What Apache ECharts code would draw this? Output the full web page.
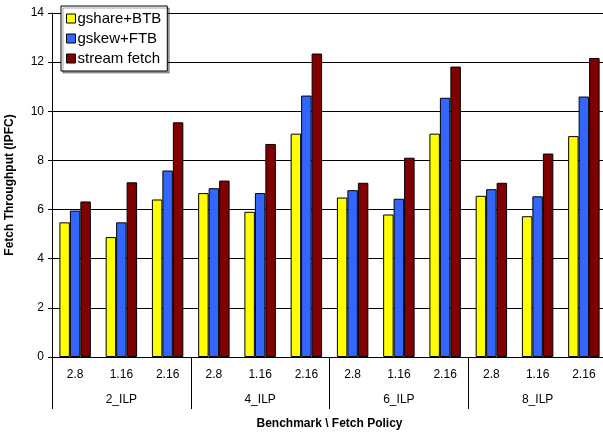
<!DOCTYPE html>
<html>
<head>
<meta charset="utf-8">
<script src="https://cdn.jsdelivr.net/npm/echarts@6/dist/echarts.min.js"></script>
<style>
    html, body { margin: 0; padding: 0; background: #fff; }
    #chart { width: 603px; height: 434px; }
</style>
</head>
<body>
<div id="chart"></div>
<script>

    // fetch throughput per benchmark / fetch policy

    var policies = ['2.8', '1.16', '2.16', '2.8', '1.16', '2.16', '2.8', '1.16', '2.16', '2.8', '1.16', '2.16'];
    var benchmarks = ['2_ILP', '4_ILP', '6_ILP', '8_ILP'];

    var gshareBTB = [5.48, 4.88, 6.41, 6.67, 5.91, 9.09, 6.49, 5.80, 9.09, 6.56, 5.73, 8.99];
    var gskewFTB = [5.96, 5.48, 7.59, 6.87, 6.67, 10.64, 6.79, 6.44, 10.55, 6.83, 6.54, 10.60];
    var streamFetch = [6.33, 7.11, 9.55, 7.18, 8.67, 12.35, 7.09, 8.11, 11.82, 7.09, 8.28, 12.17];

    var fontName = 'Liberation Sans, Arial, sans-serif';

    var chart = echarts.init(document.getElementById('chart'));

    function barSeries(name, color, data) {
        return {
            name: name,
            type: 'bar',
            xAxisIndex: 0,
            barGap: '0%',
            barCategoryGap: '32%',
            itemStyle: {
                color: color,
                borderColor: '#000',
                borderWidth: 1
            },
            data: data
        };
    }

    var option = {
        animation: false,
        textStyle: { fontFamily: fontName },
        grid: {
            left: 52,
            top: 13,
            width: 555,
            height: 344,
            outerBoundsMode: 'none',
            containLabel: false
        },
        legend: {
            orient: 'vertical',
            left: 61,
            top: 6,
            padding: [5, 6, 5, 5],
            itemGap: 5,
            itemWidth: 9,
            itemHeight: 9,
            icon: 'rect',
            backgroundColor: '#fff',
            borderColor: '#000',
            borderWidth: 1,
            shadowColor: 'rgba(0,0,0,0.35)',
            shadowOffsetX: 2,
            shadowOffsetY: 2,
            itemStyle: { borderColor: '#000', borderWidth: 1 },
            textStyle: { fontSize: 15, color: '#000', fontFamily: fontName, padding: [0, 0, 0, -3] },
            data: ['gshare+BTB', 'gskew+FTB', 'stream fetch']
        },
        xAxis: [
            {
                type: 'category',
                data: policies,
                position: 'bottom',
                axisLine: { lineStyle: { color: '#000', width: 1 } },
                axisTick: { show: false },
                axisLabel: { color: '#000', fontSize: 12, margin: 12, interval: 0 }
            },
            {
                type: 'category',
                data: benchmarks,
                position: 'bottom',
                axisLine: { show: false },
                axisTick: { show: true, length: 52, lineStyle: { color: '#000' } },
                axisLabel: { color: '#000', fontSize: 12, margin: 37 },
                name: 'Benchmark \\ Fetch Policy',
                nameLocation: 'middle',
                nameGap: 61,
                nameTextStyle: { fontWeight: 'bold', fontSize: 12, color: '#000' }
            }
        ],
        yAxis: {
            type: 'value',
            min: 0,
            max: 14,
            interval: 2,
            name: 'Fetch Throughput (IPFC)',
            nameLocation: 'middle',
            nameGap: 36,
            nameTextStyle: { fontWeight: 'bold', fontSize: 12, color: '#000' },
            axisLine: { show: true, lineStyle: { color: '#000' } },
            axisTick: { show: true, length: 4, lineStyle: { color: '#000' } },
            axisLabel: { color: '#000', fontSize: 12, margin: 8 },
            splitLine: { lineStyle: { color: '#000', width: 1 } }
        },
        series: [
            barSeries('gshare+BTB', '#ffff00', gshareBTB),
            barSeries('gskew+FTB', '#3366ff', gskewFTB),
            barSeries('stream fetch', '#800000', streamFetch)
        ]
    };

    chart.setOption(option);

</script>
</body>
</html>
